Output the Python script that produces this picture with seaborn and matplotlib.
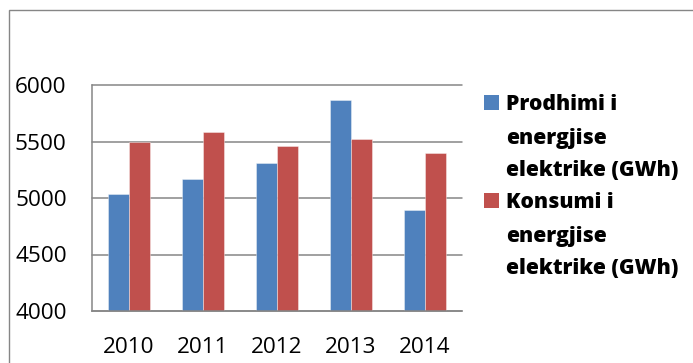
import textwrap
import matplotlib
matplotlib.use("Agg")
import matplotlib.pyplot as plt
from matplotlib.patches import Rectangle
import seaborn as sns
import pandas as pd

years = ["2010", "2011", "2012", "2013", "2014"]
series = ["Prodhimi i energjise elektrike (GWh)", "Konsumi i energjise elektrike (GWh)"]
prodhimi = [5033, 5165, 5310, 5865, 4891]
konsumi = [5500, 5580, 5462, 5518, 5396]
yticks = [4000, 4500, 5000, 5500, 6000]
colors = ["#4F81BD", "#C0504D"]

df = pd.DataFrame({
    "year": years * 2,
    "series": [series[0]] * len(years) + [series[1]] * len(years),
    "value": prodhimi + konsumi,
})

sns.set_style("white")
plt.rcParams["font.family"] = ["Open Sans", "DejaVu Sans"]

W, H = 693, 363
fig = plt.figure(figsize=(W / 100, H / 100), dpi=100)
ax = fig.add_axes([92 / W, 1 - 311 / H, (462 - 92) / W, (311 - 85) / H])

grey = "#868686"
sns.barplot(data=df, x="year", y="value", hue="series", palette=colors,
            width=0.57, ax=ax, legend=False, saturation=1,
            edgecolor=(1, 1, 1, 0.45), linewidth=0.6)

ax.set_ylim(yticks[0], yticks[-1])
ax.set_xlim(-0.5, len(years) - 0.5)
ax.set_yticks(yticks)
ax.set_yticklabels([str(t) for t in yticks])
ax.set_xlabel("")
ax.set_ylabel("")
ax.set_axisbelow(True)
ax.yaxis.grid(True, color=grey, linewidth=1.1)
for gl in ax.get_ygridlines():
    gl.set_clip_on(False)

for s in ["top", "right"]:
    ax.spines[s].set_visible(False)
for s in ["left", "bottom"]:
    ax.spines[s].set_color(grey)
    ax.spines[s].set_linewidth(1.1)

ax.set_xticks([i - 0.5 for i in range(len(years) + 1)], minor=True)
ax.tick_params(axis="x", which="major", length=0, pad=18.5, labelsize=16.2, labelcolor="black")
ax.tick_params(axis="x", which="minor", length=5.8, width=1.1, color=grey, direction="out")
ax.tick_params(axis="y", which="major", length=6.5, width=1.1, color=grey, direction="out",
               pad=11.7, labelsize=16.2, labelcolor="black")

# outer chart border
fig.add_artist(Rectangle((9 / W, -0.1), 1.2, 1 - 10 / H + 0.1, transform=fig.transFigure,
                         fill=False, edgecolor=grey, linewidth=1.0))

# legend (Excel style: square aligned with the first line of a wrapped label)
baselines = [[110, 144, 176], [208, 242, 274]]
for i, (name, col) in enumerate(zip(series, colors)):
    lines = textwrap.wrap(name, 15)
    b0 = baselines[i][0]
    fig.add_artist(Rectangle((484 / W, 1 - b0 / H), 15 / W, 15 / H, transform=fig.transFigure,
                             facecolor=col, edgecolor="none"))
    for j, line in enumerate(lines):
        fig.text(506 / W, 1 - baselines[i][j] / H, line, fontsize=15.2, fontweight=800,
                 ha="left", va="baseline", color="black")

fig.savefig("out.png", dpi=100)
